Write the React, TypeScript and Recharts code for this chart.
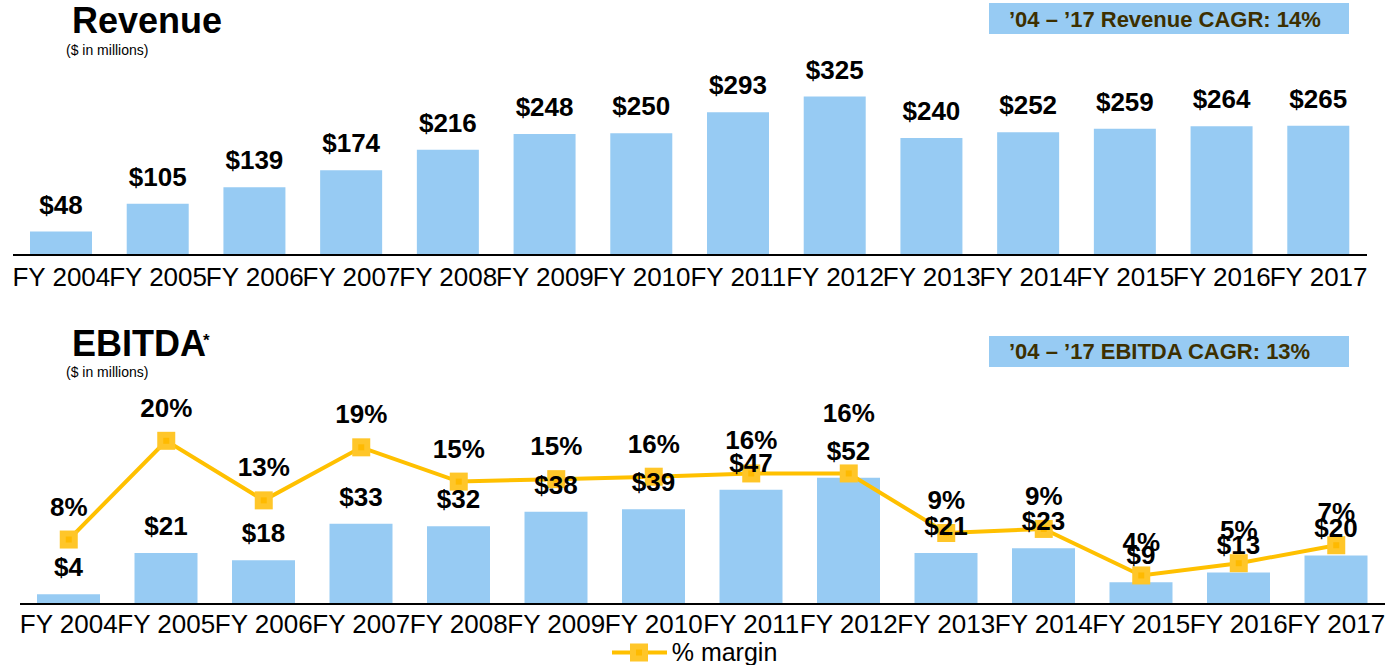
import React from "react";
import { Bar, BarChart, ComposedChart, LabelList, Legend, Line, XAxis, YAxis } from "recharts";

const years = ["FY 2004", "FY 2005", "FY 2006", "FY 2007", "FY 2008", "FY 2009", "FY 2010", "FY 2011", "FY 2012", "FY 2013", "FY 2014", "FY 2015", "FY 2016", "FY 2017"];
const revenue = [48, 105, 139, 174, 216, 248, 250, 293, 325, 240, 252, 259, 264, 265];
const ebitda = [4, 21, 18, 33, 32, 38, 39, 47, 52, 21, 23, 9, 13, 20];
const marginPct = [7.9, 20.0, 12.7, 19.2, 15.0, 15.3, 15.6, 16.0, 16.0, 8.7, 9.2, 3.5, 5.0, 7.2];

const FONT = "'Liberation Sans', Arial, sans-serif";
const BLUE = "#97CBF3";
const GOLD = "#FFC000";

const revData = years.map((year, i) => ({ year, revenue: revenue[i] }));
const ebitdaData = years.map((year, i) => ({ year, ebitda: ebitda[i], margin: marginPct[i] }));

const tickStyle = { fill: "#000", fontSize: 26, fontFamily: FONT };

function MoneyLabel(props: any) {
  const { x, y, width, value } = props;
  return (
    <text x={x + width / 2} y={y - 18} textAnchor="middle" fontFamily={FONT} fontWeight="bold" fontSize={26} fill="#000">
      ${value}
    </text>
  );
}

function PctLabel(props: any) {
  const { x, y, value, index } = props;
  // FY 2012 label sits higher so it clears the $52 label
  const lift = index === 8 ? 51 : 24;
  return (
    <text x={x} y={y - lift} textAnchor="middle" fontFamily={FONT} fontWeight="bold" fontSize={26} fill="#000">
      {Math.round(value)}%
    </text>
  );
}

function MarginDot(props: any) {
  const { cx, cy, index } = props;
  return (
    <g key={`dot-${index}`}>
      <rect x={cx - 9} y={cy - 9} width={18} height={18} fill="#FFC629" />
      <rect x={cx - 3} y={cy - 3} width={6} height={6} fill="#FFBA00" />
    </g>
  );
}

function MarginLegend() {
  return (
    <div style={{ height: 25, display: "flex", justifyContent: "center", alignItems: "center", marginLeft: -16 }}>
      <svg width={56} height={25}>
        <line x1={0} y1={12.5} x2={55} y2={12.5} stroke={GOLD} strokeWidth={4} />
        <rect x={18} y={3.5} width={18} height={18} fill="#FFC629" />
        <rect x={24} y={9.5} width={6} height={6} fill="#FFBA00" />
      </svg>
      <span style={{ fontFamily: FONT, fontSize: 25, color: "#000", marginLeft: 4, lineHeight: "25px" }}>% margin</span>
    </div>
  );
}

export default function App() {
  return (
    <div style={{ position: "absolute", left: 0, top: 0, width: 1389, height: 665, background: "#fff" }}>
      <div style={{ position: "absolute", left: 0, top: 0 }}>
        <BarChart width={1389} height={300} data={revData} margin={{ top: 60, right: 22, bottom: 0, left: 13 }} barSize={62}>
          <XAxis dataKey="year" interval={0} tickLine={false} tickSize={0} tickMargin={13} height={45} axisLine={{ stroke: "#000", strokeWidth: 2 }} tick={tickStyle} />
          <YAxis hide domain={[0, 400]} />
          <Bar dataKey="revenue" fill={BLUE} isAnimationActive={false}>
            <LabelList dataKey="revenue" content={MoneyLabel} />
          </Bar>
        </BarChart>
      </div>
      <div style={{ position: "absolute", left: 0, top: 300 }}>
        <ComposedChart width={1389} height={365} data={ebitdaData} margin={{ top: 100, right: 4, bottom: 0, left: 20 }} barSize={63}>
          <XAxis dataKey="year" interval={0} tickLine={false} tickSize={0} tickMargin={11} height={36} axisLine={{ stroke: "#000", strokeWidth: 2 }} tick={tickStyle} />
          <YAxis yAxisId="usd" hide domain={[0, 84]} />
          <YAxis yAxisId="pct" hide orientation="right" domain={[0, 25]} />
          <Legend verticalAlign="bottom" height={25} content={MarginLegend} />
          <Bar yAxisId="usd" dataKey="ebitda" fill={BLUE} isAnimationActive={false} legendType="none">
            <LabelList dataKey="ebitda" content={MoneyLabel} />
          </Bar>
          <Line yAxisId="pct" dataKey="margin" stroke={GOLD} strokeWidth={4} dot={MarginDot} activeDot={false} isAnimationActive={false}>
            <LabelList dataKey="margin" content={PctLabel} />
          </Line>
        </ComposedChart>
      </div>
      <svg width={1389} height={665} style={{ position: "absolute", left: 0, top: 0, pointerEvents: "none" }}>
        <text x={72} y={33} fontFamily={FONT} fontWeight="bold" fontSize={36} fill="#000">Revenue</text>
        <text x={66} y={55} fontFamily={FONT} fontSize={14} fill="#000">($ in millions)</text>
        <rect x={989} y={3} width={360} height={31} fill={BLUE} />
        <text x={1009} y={27} fontFamily={FONT} fontWeight="bold" fontSize={22} fill="#3D2F00">’04 – ’17 Revenue CAGR: 14%</text>
        <text x={72} y={356} fontFamily={FONT} fontWeight="bold" fontSize={36} fill="#000">EBITDA</text>
        <text x={203} y={346} fontFamily={FONT} fontWeight="bold" fontSize={17} fill="#000">*</text>
        <text x={66} y={377} fontFamily={FONT} fontSize={14} fill="#000">($ in millions)</text>
        <rect x={989} y={336} width={360} height={31} fill={BLUE} />
        <text x={1009} y={359} fontFamily={FONT} fontWeight="bold" fontSize={22} fill="#3D2F00">’04 – ’17 EBITDA CAGR: 13%</text>
      </svg>
    </div>
  );
}
